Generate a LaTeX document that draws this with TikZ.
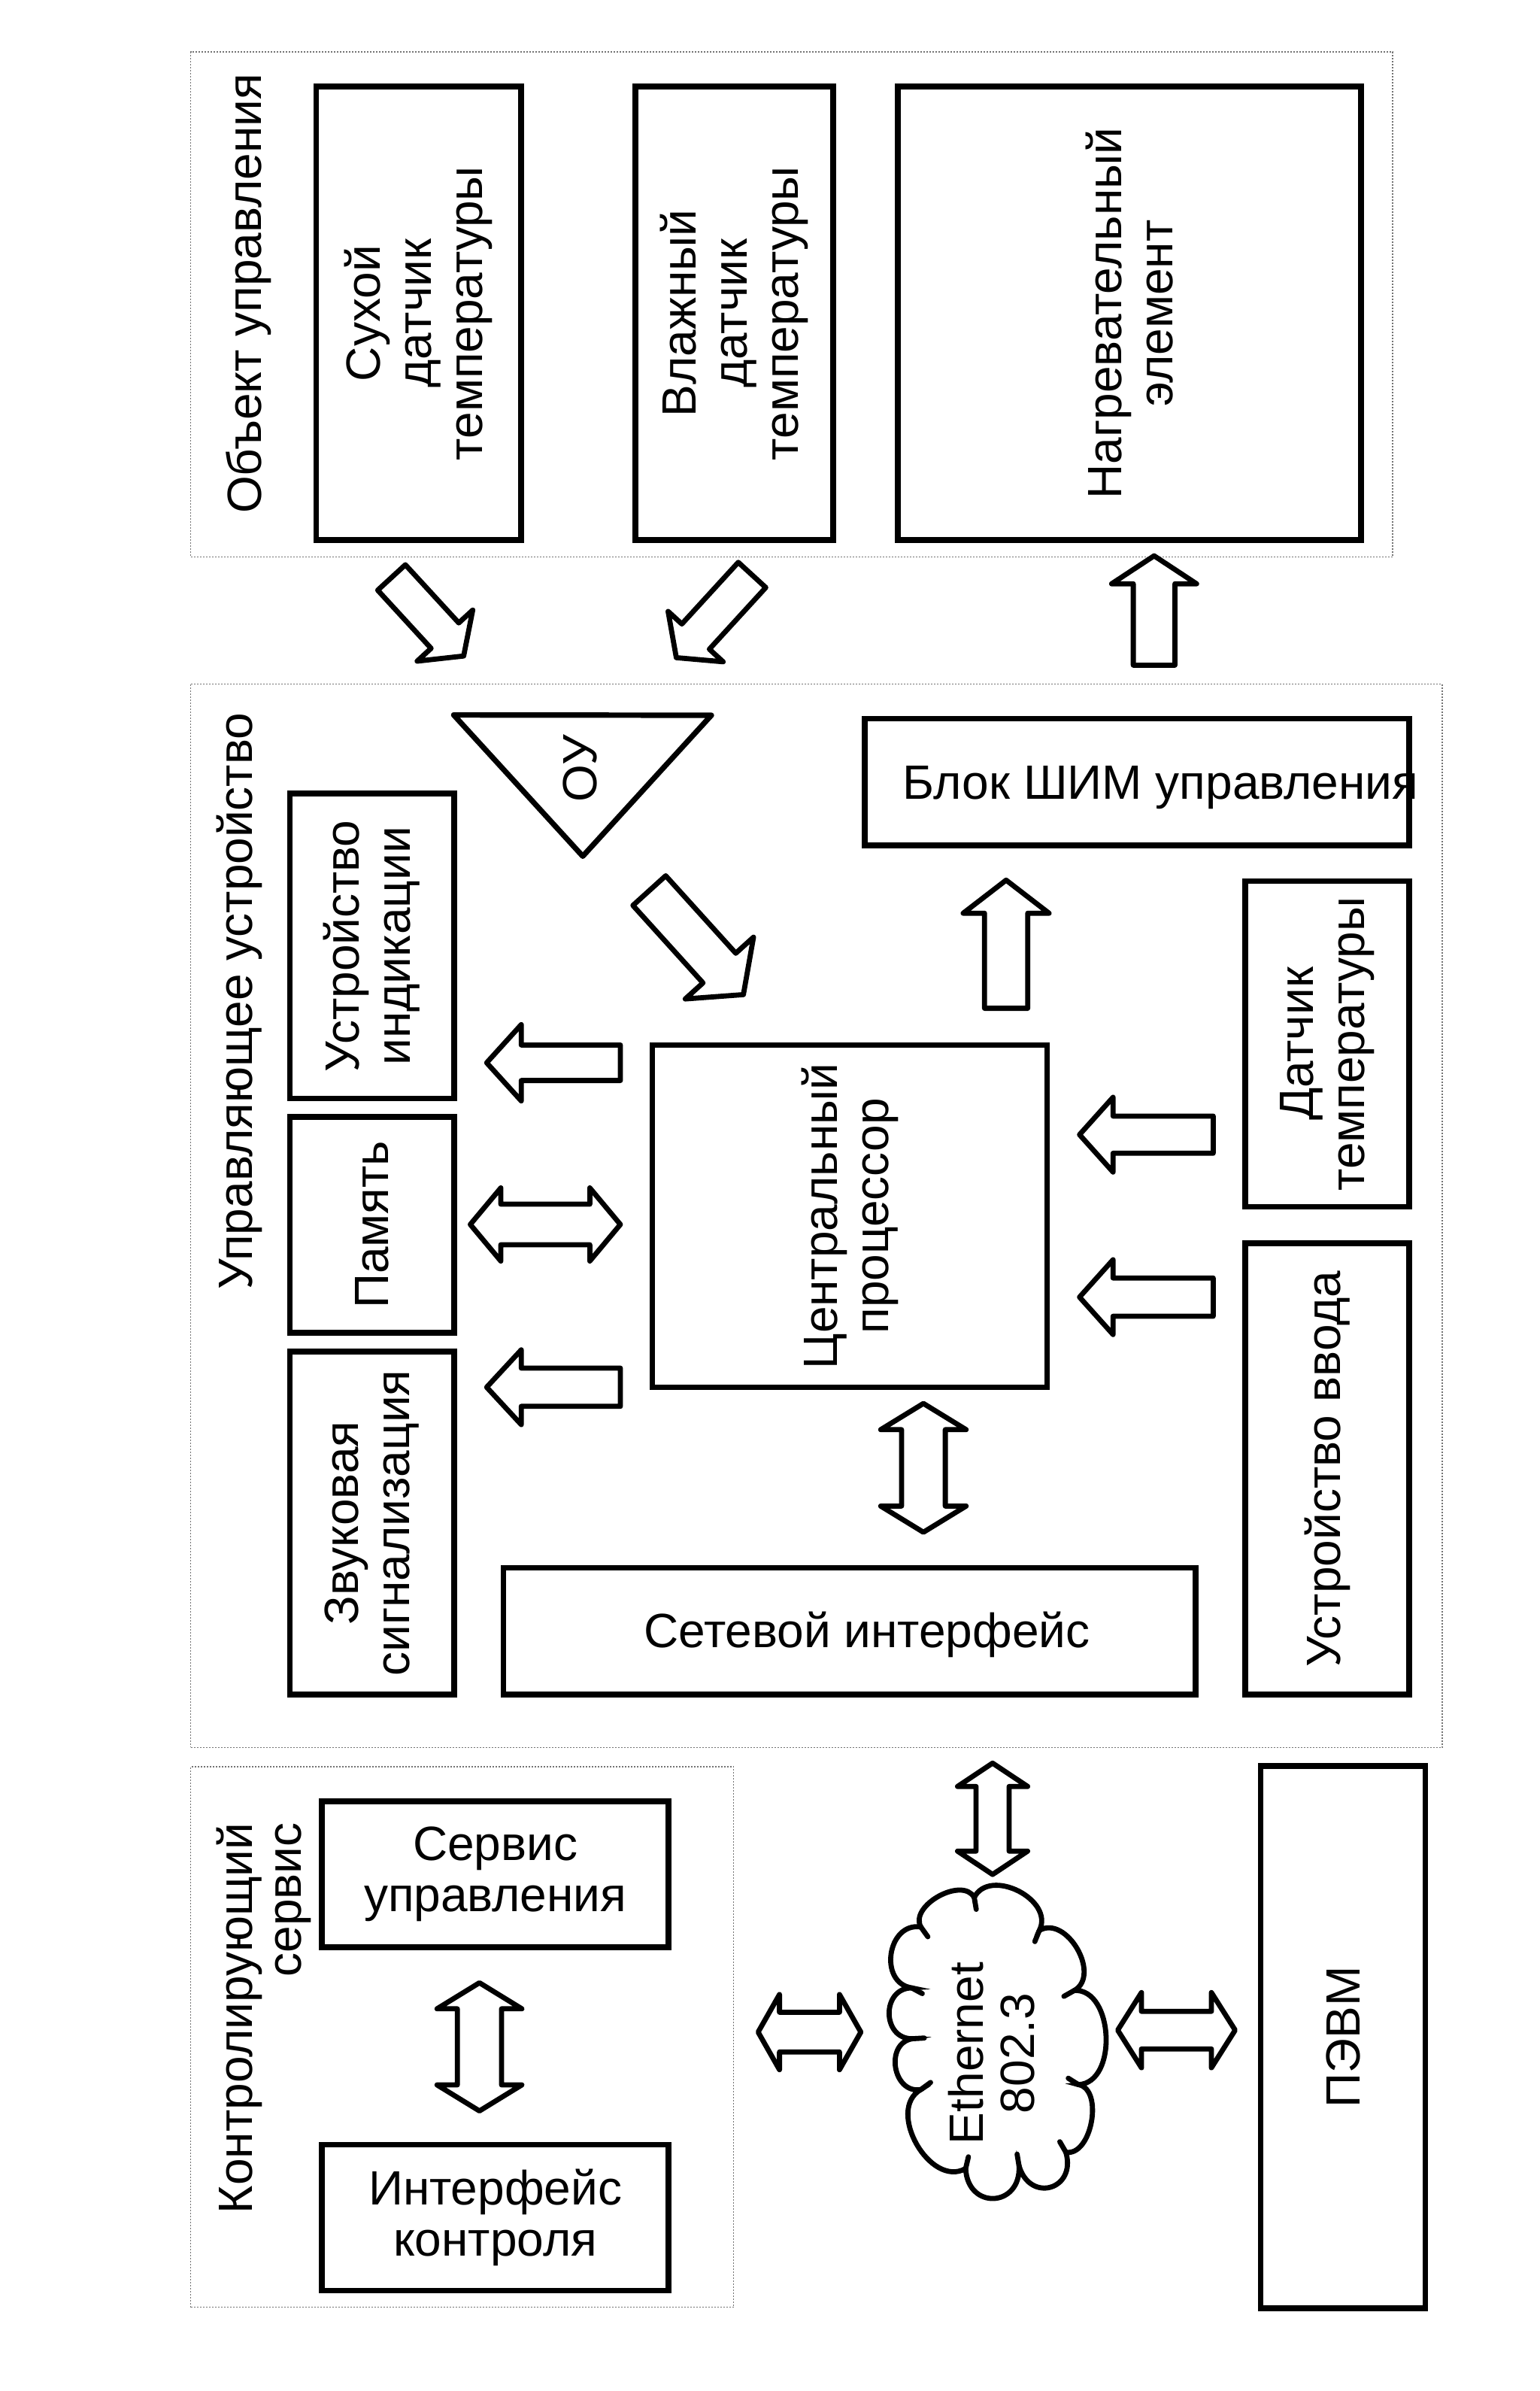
\documentclass[tikz,border=0pt]{standalone}
\usepackage{fontspec}
\setmainfont{Liberation Sans}
\usetikzlibrary{calc}
\newcommand\blkarrow[5]{%
  \path ($(#2)!#5!(#1)$) coordinate (bh);
  \draw[barrow] ($(#1)!#3!90:(#2)$) -- ($(bh)!#3!90:(#2)$) -- ($(bh)!#4!90:(#2)$) -- (#2) -- ($(bh)!#4!-90:(#2)$) -- ($(bh)!#3!-90:(#2)$) -- ($(#1)!#3!-90:(#2)$) -- cycle;
}
\newcommand\dblarrow[5]{%
  \path ($(#1)!#5!(#2)$) coordinate (bha) ($(#2)!#5!(#1)$) coordinate (bhb);
  \draw[barrow] (#1) -- ($(bha)!#4!90:(#2)$) -- ($(bha)!#3!90:(#2)$) -- ($(bhb)!#3!90:(#2)$) -- ($(bhb)!#4!90:(#2)$) -- (#2) -- ($(bhb)!#4!-90:(#2)$) -- ($(bhb)!#3!-90:(#2)$) -- ($(bha)!#3!-90:(#2)$) -- ($(bha)!#4!-90:(#2)$) -- cycle;
}
\begin{document}
\begin{tikzpicture}[x=1pt,y=-1pt,
  txt/.style={font=\fontsize{32}{34}\selectfont, inner sep=0pt},
  box/.style={draw, line width=3.8pt, inner sep=0pt, align=center, txt},
  vbox/.style={box, rotate=90},
  panel/.style={draw=black!55, line width=0.6pt, dash pattern=on 1pt off 1pt, inner sep=0pt},
  barrow/.style={draw, line width=3.4pt, line join=round, fill=white},
  cloudline/.style={draw, line width=3.4pt, line cap=round},
]
\fill[white] (0,0) rectangle (1024,1589.5);
\useasboundingbox (0,0) rectangle (1024,1589.5);

% panels
\node[panel, minimum width=799.2pt, minimum height=335.7pt] (p1) at (526.4,202.35) {};
\node[panel, minimum width=832.2pt, minimum height=707pt] (p2) at (542.9,808.1) {};
\node[panel, minimum width=361.1pt, minimum height=359.4pt] (p3) at (307.35,1354.2) {};

\node[txt, rotate=90, anchor=base] (l1) at (173.7,195.3) {Объект управления};
\node[txt, rotate=90, anchor=base] (l2) at (167.6,665.6) {Управляющее устройство};
\node[txt, rotate=90, anchor=base east] (l3a) at (167.6,1211.6) {Контролирующий};
\node[txt, rotate=90, anchor=base east] (l3b) at (200.2,1211.6) {сервис};

% object
\node[vbox, minimum width=301.6pt, minimum height=136.2pt] (dry) at (278.4,208.3) {Сухой\\датчик\\температуры};
\node[vbox, minimum width=301.6pt, minimum height=131.4pt] (wet) at (488.3,208.3) {Влажный\\датчик\\температуры};
\node[vbox, minimum width=301.6pt, minimum height=308pt] (heat) at (751,208.3) {Нагревательный\\элемент};

% control device
\node[vbox, minimum width=202.7pt, minimum height=109.2pt] (ind) at (247.3,628.9) {Устройство\\индикации};
\node[vbox, minimum width=143.7pt, minimum height=109.2pt] (mem) at (247.3,814.2) {Память};
\node[vbox, minimum width=228pt, minimum height=109.2pt] (snd) at (247.3,1012.5) {Звуковая\\сигнализация};
\node[vbox, minimum width=227.5pt, minimum height=262.4pt] (cpu) at (565,808.5) {Центральный\\процессор};
\node[box, minimum width=361.8pt, minimum height=84.4pt] (pwm) at (756,519.9) {};
\node[txt, anchor=base west] (pwmt) at (600,531) {Блок ШИМ управления};
\node[vbox, minimum width=216.4pt, minimum height=108.9pt] (tsens) at (882.5,694) {Датчик\\температуры};
\node[vbox, minimum width=299.9pt, minimum height=108.9pt] (inp) at (882.5,976.5) {Устройство ввода};
\node[box, minimum width=460.2pt, minimum height=84.3pt] (net) at (564.8,1084.4) {};
\node[txt, anchor=base west] (nett) at (428,1095) {Сетевой интерфейс};

% OU triangle
\coordinate (ouA) at (301.7,475.3);
\coordinate (ouB) at (473,475.5);
\coordinate (ouC) at (387.5,569.2);
\draw[line width=3.6pt, line join=round] (ouA) -- (ouB) -- (ouC) -- cycle;
\node[txt, rotate=90] (ou) at (385.7,510.8) {ОУ};

% service
\node[box, minimum width=230.6pt, minimum height=97.1pt] (srv) at (329.3,1246) {Сервис\\управления};
\node[box, minimum width=230.6pt, minimum height=97pt] (ifc) at (329.3,1474.2) {Интерфейс\\контроля};
\node[vbox, minimum width=360.7pt, minimum height=109.5pt] (pc) at (893,1354.2) {ПЭВМ};

% arrows
\coordinate (a1t) at (260.35,383.9); \coordinate (a1h) at (308.3,436.1);
\blkarrow{a1t}{a1h}{12.5pt}{25.1pt}{18.4pt}
\coordinate (a2t) at (500.05,382.2); \coordinate (a2h) at (449.7,437.2);
\blkarrow{a2t}{a2h}{12.4pt}{24.8pt}{19pt}
\coordinate (a3t) at (767.4,442.2); \coordinate (a3h) at (767.4,369.5);
\blkarrow{a3t}{a3h}{13.85pt}{28.25pt}{18.6pt}
\coordinate (a4t) at (431.75,592.05); \coordinate (a4h) at (494.3,661.2);
\blkarrow{a4t}{a4h}{14.7pt}{30.6pt}{23.8pt}
\coordinate (a5t) at (669,670.3); \coordinate (a5h) at (669,585.1);
\blkarrow{a5t}{a5h}{14.35pt}{28.55pt}{22pt}
\coordinate (a6t) at (412.5,706.5); \coordinate (a6h) at (323.6,706.5);
\blkarrow{a6t}{a6h}{11.8pt}{25.35pt}{23pt}
\coordinate (a7a) at (312.7,814); \coordinate (a7b) at (412.5,814);
\dblarrow{a7a}{a7b}{13.5pt}{24.3pt}{20.3pt}
\coordinate (a8t) at (412.5,922.2); \coordinate (a8h) at (323.6,922.2);
\blkarrow{a8t}{a8h}{12.7pt}{24.85pt}{23pt}
\coordinate (a9t) at (806.7,754.3); \coordinate (a9h) at (717.8,754.3);
\blkarrow{a9t}{a9h}{12.35pt}{24.85pt}{22.3pt}
\coordinate (a10t) at (806.7,862.3); \coordinate (a10h) at (717.8,862.3);
\blkarrow{a10t}{a10h}{12.7pt}{24.85pt}{22.3pt}
\coordinate (a11a) at (614,933); \coordinate (a11b) at (614,1018.6);
\dblarrow{a11a}{a11b}{14.55pt}{28.4pt}{17.4pt}
\coordinate (a12a) at (660,1172.1); \coordinate (a12b) at (660,1246.1);
\dblarrow{a12a}{a12b}{11pt}{23.3pt}{15.5pt}
\coordinate (a13a) at (318.8,1318.1); \coordinate (a13b) at (318.8,1403.3);
\dblarrow{a13a}{a13b}{14.7pt}{28.2pt}{17.3pt}
\coordinate (a14a) at (504.1,1350.9); \coordinate (a14b) at (572.4,1350.9);
\dblarrow{a14a}{a14b}{13.2pt}{25pt}{14.2pt}
\coordinate (a15a) at (743.2,1349.6); \coordinate (a15b) at (821.3,1349.6);
\dblarrow{a15a}{a15b}{12.5pt}{25pt}{15.8pt}

% cloud
\coordinate (c1) at (647.8,1261.4);
\coordinate (c2) at (691.1,1283.3);
\coordinate (c3) at (714.4,1323.2);
\coordinate (c4) at (717.1,1385.8);
\coordinate (c5) at (708.7,1430.7);
\coordinate (c6) at (677.6,1439.9);
\coordinate (c7) at (642.1,1441.6);
\coordinate (c8) at (612.3,1389.1);
\coordinate (c9) at (606.6,1355.3);
\coordinate (c10) at (606.2,1321.5);
\coordinate (c11) at (612.3,1281);
\coordinate (cc) at (663,1352);
\draw[cloudline]
  (c1) .. controls ($(c1)!0.47!90:(c2)$) and ($(c2)!0.47!-90:(c1)$) .. (c2)
       .. controls ($(c2)!0.45!90:(c3)$) and ($(c3)!0.45!-90:(c2)$) .. (c3)
       .. controls ($(c3)!0.42!90:(c4)$) and ($(c4)!0.42!-90:(c3)$) .. (c4)
       .. controls ($(c4)!0.38!90:(c5)$) and ($(c5)!0.38!-90:(c4)$) .. (c5)
       .. controls ($(c5)!0.8!90:(c6)$) and ($(c6)!0.8!-90:(c5)$) .. (c6)
       .. controls ($(c6)!0.78!90:(c7)$) and ($(c7)!0.78!-90:(c6)$) .. (c7)
       .. controls ($(c7)!0.45!90:(c8)$) and ($(c8)!0.45!-90:(c7)$) .. (c8)
       .. controls ($(c8)!0.55!90:(c9)$) and ($(c9)!0.55!-90:(c8)$) .. (c9)
       .. controls ($(c9)!0.6!90:(c10)$) and ($(c10)!0.6!-90:(c9)$) .. (c10)
       .. controls ($(c10)!0.55!90:(c11)$) and ($(c11)!0.55!-90:(c10)$) .. (c11)
       .. controls ($(c11)!0.4!90:(c1)$) and ($(c1)!0.4!-90:(c11)$) .. (c1);
\foreach \k in {1,...,11} \draw[cloudline] (c\k) -- ($(c\k)!8pt!(cc)$);
\node[txt, rotate=90, align=center] (eth) at (659.5,1365) {Ethernet\\802.3};
\end{tikzpicture}
\end{document}
